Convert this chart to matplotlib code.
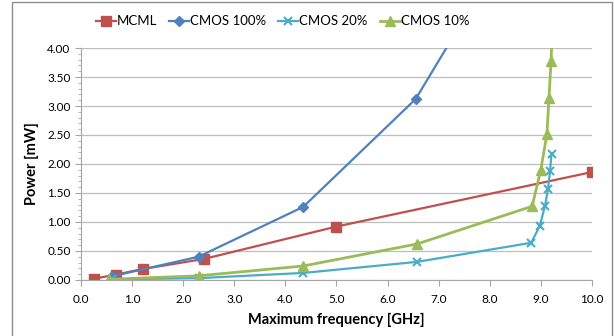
import numpy as np
import matplotlib
matplotlib.use('Agg')
import matplotlib.pyplot as plt
from matplotlib.ticker import MultipleLocator, FormatStrFormatter
from matplotlib.patches import Rectangle

plt.rcParams['font.family'] = ['Lato', 'DejaVu Sans']

# Data
mcml_x = [0.25, 0.68, 1.22, 2.40, 5.0, 10.0]
mcml_y = [0.02, 0.09, 0.19, 0.36, 0.92, 1.86]

cmos100_x = [0.60, 2.30, 4.35, 6.55, 7.80]
cmos100_y = [0.06, 0.40, 1.26, 3.12, 4.95]

cmos20_x = [0.60, 2.30, 4.35, 6.57, 8.81, 8.98, 9.08, 9.14, 9.18, 9.21]
cmos20_y = [0.01, 0.03, 0.12, 0.31, 0.64, 0.93, 1.27, 1.56, 1.88, 2.18]

cmos10_x = [0.55, 2.30, 4.35, 6.58, 8.83, 9.00, 9.12, 9.16, 9.20, 9.24]
cmos10_y = [0.01, 0.07, 0.24, 0.62, 1.27, 1.90, 2.52, 3.14, 3.77, 4.60]

fig = plt.figure(figsize=(6.14, 3.36), dpi=100)
ax = fig.add_axes([0.132, 0.167, 0.832, 0.690])

ax.plot(mcml_x, mcml_y, color='#C0504D', lw=1.6, marker='s', ms=6.5, label='MCML')
ax.plot(cmos100_x, cmos100_y, color='#4F81BD', lw=1.6, marker='D', ms=5, label='CMOS 100%')
ax.plot(cmos20_x, cmos20_y, color='#4BACC6', lw=1.6, marker='x', ms=6, mew=1.5, label='CMOS 20%')
ax.plot(cmos10_x, cmos10_y, color='#9BBB59', lw=2.0, marker='^', ms=6.5, label='CMOS 10%')

ax.set_xlim(0, 10)
ax.set_ylim(0, 4)
ax.xaxis.set_major_locator(MultipleLocator(1.0))
ax.xaxis.set_major_formatter(FormatStrFormatter('%.1f'))
ax.yaxis.set_major_locator(MultipleLocator(0.5))
ax.yaxis.set_minor_locator(MultipleLocator(0.1))
ax.yaxis.set_major_formatter(FormatStrFormatter('%.2f'))

ax.grid(axis='y', color='#BEBEBE', lw=0.9)
ax.set_axisbelow(True)
for s in ['top', 'right']:
    ax.spines[s].set_visible(False)
for s in ['left', 'bottom']:
    ax.spines[s].set_color('#A6A6A6')
ax.tick_params(axis='both', which='major', colors='#A6A6A6', labelcolor='black',
               labelsize=8.5, length=4)
ax.tick_params(axis='x', which='major', pad=6)
ax.tick_params(axis='y', which='minor', colors='#A6A6A6', length=2)

ax.set_xlabel('Maximum frequency [GHz]', fontsize=10.5, fontweight='bold', labelpad=6)
ax.set_ylabel('Power [mW]', fontsize=10.5, fontweight='bold', labelpad=6)

fig.legend(loc='upper left', bbox_to_anchor=(84 / 614, 0.99), ncol=4, frameon=False,
           fontsize=9.5, handlelength=1.5, handletextpad=0.1, columnspacing=0.9)

# outer chart border
fig.patches.append(Rectangle((12 / 614, -0.05), 600 / 614, 1.043,
                             transform=fig.transFigure, fill=False,
                             edgecolor='#8C8C8C', lw=1.0))

fig.savefig('out.png', dpi=100)
plt.close(fig)
